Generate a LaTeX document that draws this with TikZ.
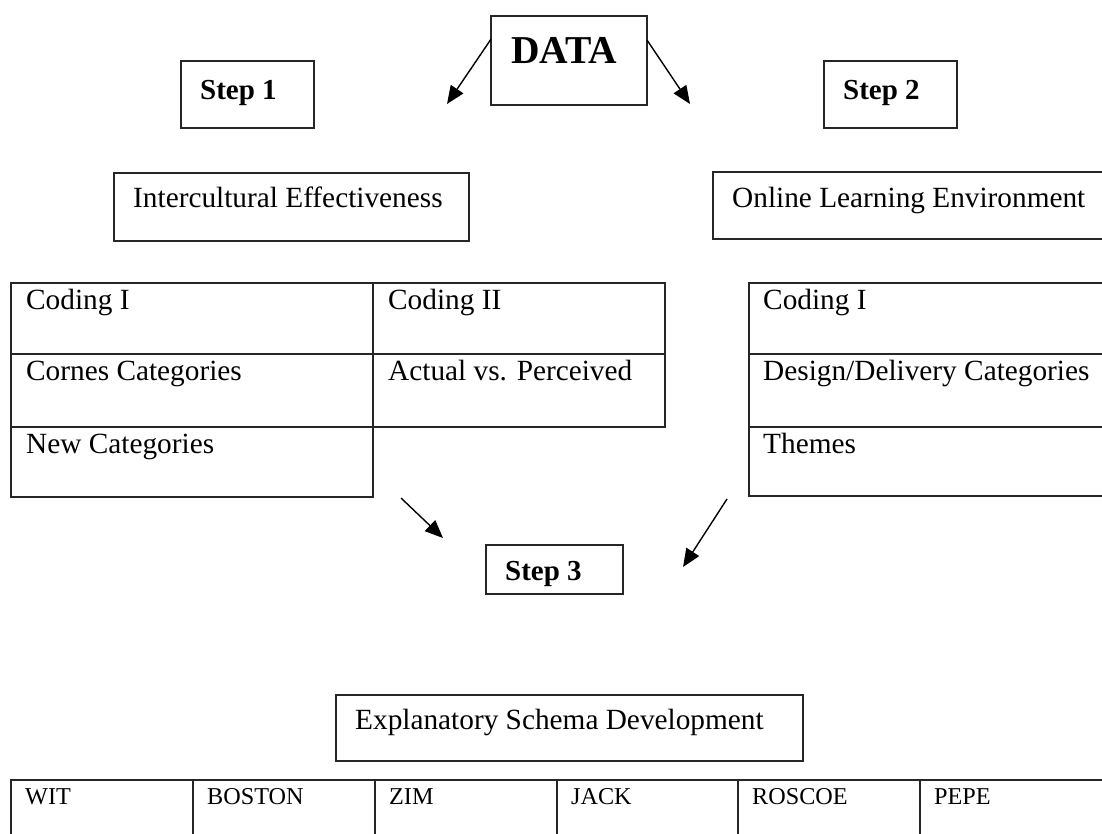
\documentclass[tikz,border=0pt]{standalone}
\usepackage{fontspec}
\setmainfont{Liberation Serif}
\usetikzlibrary{arrows.meta,calc}

\tikzset{
  box/.style={draw=black!85, line width=1.3pt, rectangle, inner sep=0pt, outer sep=0pt, anchor=north west},
  txt/.style={anchor=base west, inner sep=0pt, font=\fontsize{29.3}{35}\selectfont},
  small/.style={anchor=base west, inner sep=0pt, font=\fontsize{24.2}{29}\selectfont},
  head/.style={anchor=base west, inner sep=0pt, font=\bfseries\fontsize{29}{34}\selectfont},
  big/.style={anchor=base west, inner sep=0pt, font=\bfseries\fontsize{39.5}{46}\selectfont},
  arr/.style={line width=1.4pt, -{Triangle[length=18pt,width=15pt]}}
}

\begin{document}
\begin{tikzpicture}[x=1pt,y=-1pt]
\useasboundingbox (0,0) rectangle (1102,833);
\clip (0,0) rectangle (1102,833);
\fill[white] (0,0) rectangle (1102,833);

% top row
\node[box, minimum width=156pt, minimum height=89pt] (data) at (491,16) {};
\node[big] (datatxt) at (511,63) {DATA};
\node[box, minimum width=133pt, minimum height=67pt] (step1) at (181,61) {};
\node[head] (step1txt) at (200,99) {Step 1};
\node[box, minimum width=133pt, minimum height=67pt] (step2) at (824,61) {};
\node[head] (step2txt) at (843,99) {Step 2};

% headings of the two strands
\node[box, minimum width=355pt, minimum height=68pt] (ice) at (114,173) {};
\node[txt] (icetxt) at (133,207) {Intercultural Effectiveness};
\node[box, minimum width=400pt, minimum height=67pt] (ole) at (713,172) {};
\node[txt] (oletxt) at (732,207) {Online Learning Environment};

% left table
\node[box, minimum width=362pt, minimum height=71pt] (l1) at (11,283) {};
\node[box, minimum width=362pt, minimum height=73pt] (l2) at (11,354) {};
\node[box, minimum width=362pt, minimum height=70pt] (l3) at (11,427) {};
\node[box, minimum width=292pt, minimum height=71pt] (m1) at (373,283) {};
\node[box, minimum width=292pt, minimum height=73pt] (m2) at (373,354) {};
\node[txt] (l1t) at (26,309) {Coding I};
\node[txt] (l2t) at (26,380) {Cornes Categories};
\node[txt] (l3t) at (26,453) {New Categories};
\node[txt] (m1t) at (388,309) {Coding II};
\node[txt] (m2t) at (388,380) {Actual vs. Perceived};

% right table
\node[box, minimum width=400pt, minimum height=71pt] (r1) at (749,283) {};
\node[box, minimum width=400pt, minimum height=73pt] (r2) at (749,354) {};
\node[box, minimum width=400pt, minimum height=69pt] (r3) at (749,427) {};
\node[txt] (r1t) at (763,309) {Coding I};
\node[txt] (r2t) at (763,380) {Design/Delivery Categories};
\node[txt] (r3t) at (763,453) {Themes};

% step 3
\node[box, minimum width=137pt, minimum height=49pt] (step3) at (486,545) {};
\node[head] (step3txt) at (505,580) {Step 3};

% explanatory schema
\node[box, minimum width=467pt, minimum height=66pt] (esd) at (336,695) {};
\node[txt] (esdtxt) at (355,729) {Explanatory Schema Development};

% cases
\foreach \x/\w/\n/\t in {11/182/c1/WIT, 193/182/c2/BOSTON, 375/182/c3/ZIM, 557/181/c4/JACK, 738/182/c5/ROSCOE, 920/200/c6/PEPE}{
  \node[box, minimum width=\w pt, minimum height=80pt] (\n) at (\x,780) {};
  \node[small] (\n t) at ($(\n.north west)+(14,24)$) {\t};
}

% arrows
\coordinate (dl) at (447,104);
\coordinate (dr) at (690,104);
\draw[arr] ($(data.north west)!0.26!(data.south west)$) -- (dl);
\draw[arr] ($(data.north east)!0.27!(data.south east)$) -- (dr);
\coordinate (a1s) at (401,498);
\coordinate (a1e) at (443,538);
\coordinate (a2s) at (727,499);
\coordinate (a2e) at (683,567);
\draw[arr] (a1s) -- (a1e);
\draw[arr] (a2s) -- (a2e);
\end{tikzpicture}
\end{document}
